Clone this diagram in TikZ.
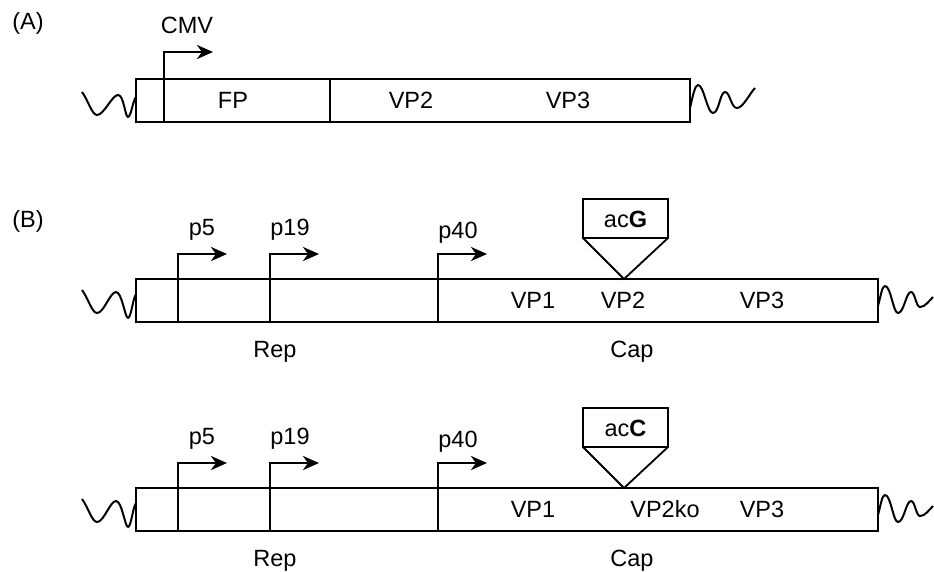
\documentclass[tikz,border=0pt]{standalone}
\usepackage{fontspec}
\setmainfont{Liberation Sans}
\usetikzlibrary{arrows.meta}
\begin{document}
\begin{tikzpicture}[x=1pt,y=-1pt,
  every node/.style={font=\fontsize{23.5}{28}\selectfont},
  lbl/.style={anchor=base,inner sep=0pt},
  gene/.style={draw,line width=1.8pt,rectangle,inner sep=0pt,outer sep=0pt},
  prom/.style={line width=2.8pt,-{Stealth[length=16pt,width=14pt,inset=5pt]}},
  wave/.style={line width=2pt,line join=round},
  ins/.style={draw,line width=1.8pt,rectangle,inner sep=0pt,outer sep=0pt,minimum width=85pt,minimum height=39pt}]
\useasboundingbox (0,0) rectangle (934,571);
% ---------- (A)
\node[lbl] (labA) at (28,29) {(A)};
\node[gene,minimum width=554pt,minimum height=43pt] (boxA) at (413,100.5) {};
\draw[line width=1.8pt] (330,79) -- (330,122);
\coordinate (pA) at (164,122);
\draw[prom] (pA) -- (164,52) -- (213,52);
\node[lbl] (cmv) at (187,33) {CMV};
\node[lbl] (fp) at (233,108) {FP};
\node[lbl] (vp2a) at (411,108) {VP2};
\node[lbl] (vp3a) at (568,108) {VP3};
\draw[wave] (82,92) .. controls (88,100) and (92,115) .. (97,115) .. controls (104,115) and (112,95) .. (118,95) .. controls (124,95) and (125,117) .. (128,117) .. controls (131,117) and (133,100) .. (136,97);
\draw[wave] (690,108) .. controls (693,95) and (695,85) .. (698,85) .. controls (704,85) and (707,113) .. (713,113) .. controls (719,113) and (720,92) .. (725,92) .. controls (730,92) and (731,108) .. (737,108) .. controls (743,108) and (750,93) .. (755,88);
% ---------- (B)
\node[lbl] (labB) at (28,227) {(B)};
\foreach \dy/\nm/\insname/\vptwo/\vpx in {0/one/ac\textbf{G}/VP2/623, 209/two/ac\textbf{C}/VP2ko/665}{
  \begin{scope}[yshift=-\dy pt]
  \node[gene,minimum width=742pt,minimum height=43pt] (box\nm) at (507,300.5) {};
  \coordinate (p5\nm) at (178,322);
  \coordinate (p19\nm) at (270,322);
  \coordinate (p40\nm) at (438,322);
  \draw[prom] (p5\nm) -- (178,254) -- (227,254);
  \draw[prom] (p19\nm) -- (270,254) -- (319,254);
  \draw[prom] (p40\nm) -- (438,254) -- (487,254);
  \node[lbl] at (202,235) {p5};
  \node[lbl] at (290,235) {p19};
  \node[lbl] at (458,238) {p40};
  \node[ins] (ins\nm) at (625.5,218.5) {};
  \node[lbl] at (625.5,227) {\insname};
  \coordinate (tip\nm) at (624,279);
  \draw[line width=1.8pt,line join=miter] (ins\nm.south west) -- (tip\nm) -- (ins\nm.south east);
  \node[lbl] at (533,308) {VP1};
  \node[lbl] at (\vpx,308) {\vptwo};
  \node[lbl] at (762,308) {VP3};
  \node[lbl] at (275,357) {Rep};
  \node[lbl] at (632,357) {Cap};
  \draw[wave] (82,290) .. controls (88,298) and (92,313) .. (97,313) .. controls (104,313) and (110,292) .. (116,292) .. controls (122,292) and (125,318) .. (128,318) .. controls (131,318) and (133,298) .. (136,294);
  \draw[wave] (878,306) .. controls (881,295) and (882,286) .. (885,286) .. controls (891,286) and (893,313) .. (898,313) .. controls (904,313) and (906,292) .. (911,292) .. controls (915,292) and (916,307) .. (920,307) .. controls (925,307) and (929,301) .. (933,297);
  \end{scope}
}
\end{tikzpicture}
\end{document}
